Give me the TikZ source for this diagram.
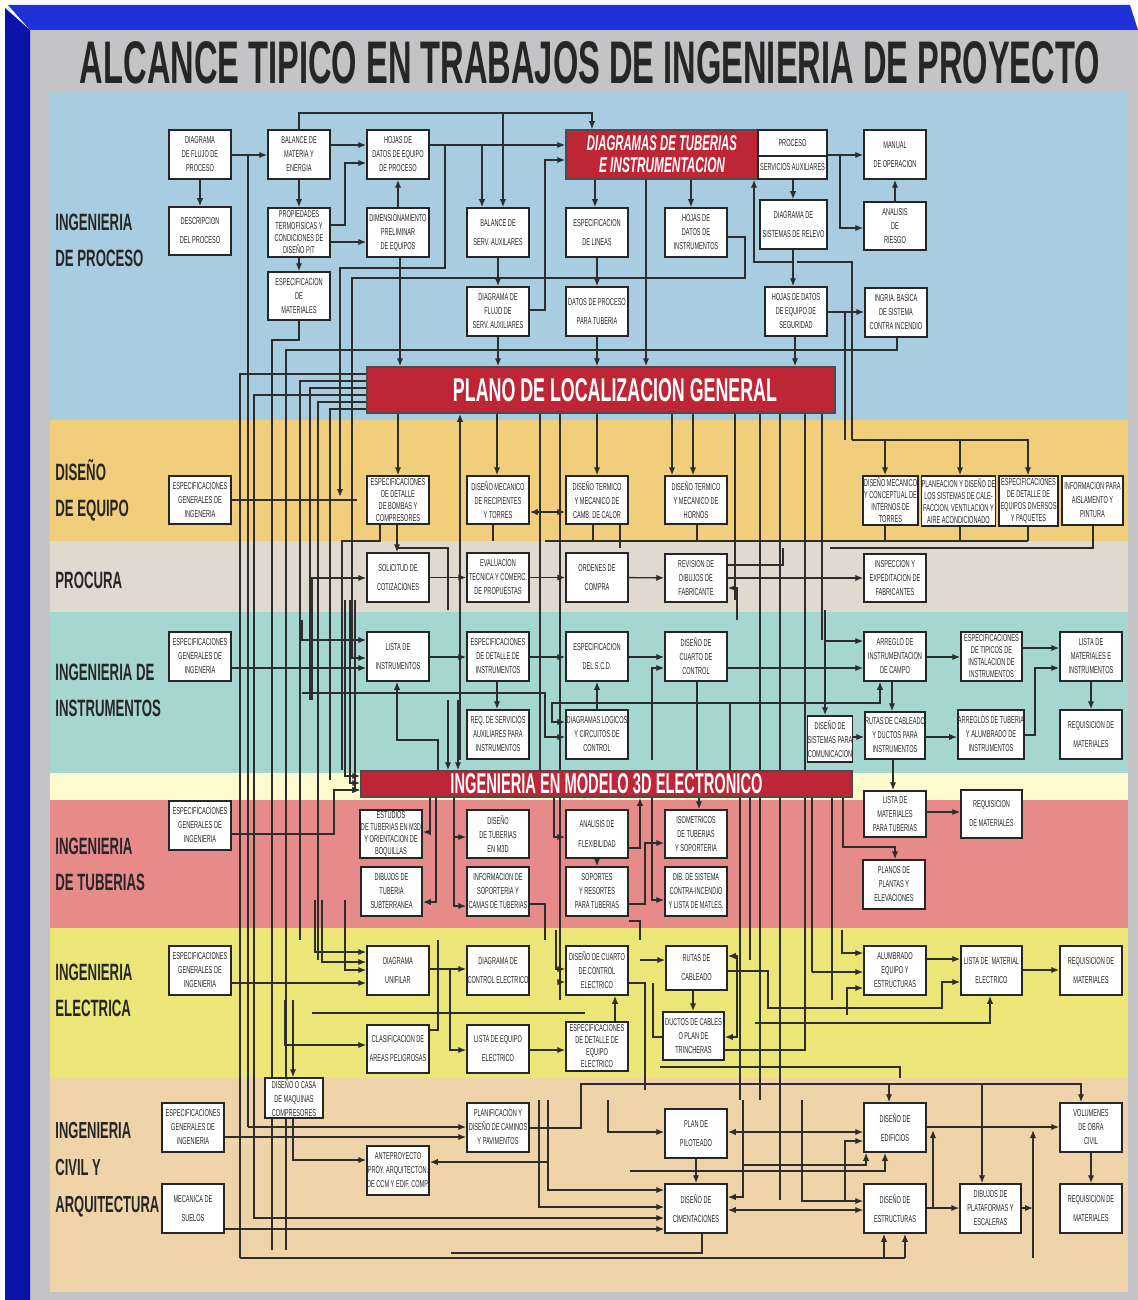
\documentclass[tikz,border=0pt]{standalone}
\usepackage{fontspec}
\setmainfont{Liberation Sans}[FakeStretch=0.56]
\usepackage{graphicx}
\usetikzlibrary{arrows.meta}
\definecolor{frameblue}{RGB}{10,20,170}
\definecolor{frametop}{RGB}{30,50,215}
\definecolor{panel}{RGB}{196,196,198}
\definecolor{bproc}{RGB}{168,205,224}
\definecolor{bequip}{RGB}{240,206,124}
\definecolor{bprocura}{RGB}{224,217,207}
\definecolor{binst}{RGB}{166,214,208}
\definecolor{bpale}{RGB}{253,250,206}
\definecolor{btub}{RGB}{230,138,138}
\definecolor{belec}{RGB}{236,230,121}
\definecolor{bcivil}{RGB}{240,212,169}
\definecolor{boxred}{RGB}{190,38,54}
\definecolor{wire}{RGB}{45,45,45}
\definecolor{ink}{RGB}{38,38,38}
\pgfdeclarelayer{bands}
\pgfdeclarelayer{wires}
\pgfsetlayers{bands,wires,main}
% box from corner (x1,y1) to (x2,y2)
\newcommand\ibox[7][]{\node[box,#1,minimum width={(#5-#3)*0.5pt},minimum height={(#6-#4)*0.5pt}] (#2) at ({(#3+#5)/2},{(#4+#6)/2}) {#7};}
\newcommand\rbox[7][]{\node[redbox,#1,minimum width={(#5-#3)*0.5pt},minimum height={(#6-#4)*0.5pt}] (#2) at ({(#3+#5)/2},{(#4+#6)/2}) {#7};}
\begin{document}
\begin{tikzpicture}[x=0.5pt,y=-0.5pt,
  box/.style={draw=black!85,line width=0.75pt,fill=white,inner sep=0pt,align=center,text=ink,
    font=\fontsize{5}{7}\selectfont},
  two/.style={font=\fontsize{5}{9.5}\selectfont},
  four/.style={font=\fontsize{5}{6}\selectfont},
  redbox/.style={draw=black!70,line width=0.75pt,fill=boxred,inner sep=0pt,text=white,align=center},
  sect/.style={anchor=west,font=\bfseries\fontsize{11.8}{18}\selectfont,text=ink,align=left,inner sep=0pt},
  ln/.style={draw=wire,line width=0.7pt},
  ar/.style={ln,-{Latex[length=4pt,width=3.2pt]}},
  ar2/.style={ln,{Latex[length=4pt,width=3.2pt]}-{Latex[length=4pt,width=3.2pt]}}]
\useasboundingbox (0,0) rectangle (1138,1300);

\begin{pgfonlayer}{bands}
  % frame and panel
  \fill[white] (0,0) rectangle (1138,1300);
  \fill[panel] (30,30) rectangle (1138,1300);
  \fill[frametop] (8,5) -- (1130,5) -- (1138,30) -- (30,30) -- cycle;
  \fill[frameblue] (5,8) -- (30,30) -- (30,1300) -- (5,1300) -- cycle;
  % bands
  \fill[bproc]    (50,92)   rectangle (1128,420);
  \fill[bequip]   (50,420)  rectangle (1128,541);
  \fill[bprocura] (50,541)  rectangle (1128,612);
  \fill[binst]    (50,612)  rectangle (1128,773);
  \fill[bpale]    (50,773)  rectangle (1128,800);
  \fill[btub]     (50,800)  rectangle (1128,928);
  \fill[belec]    (50,928)  rectangle (1128,1078);
  \fill[bcivil]   (50,1078) rectangle (1128,1292);
\end{pgfonlayer}

% title
\node[text=ink,inner sep=0pt] (title) at (590,63) {\resizebox{510pt}{21pt}{\bfseries ALCANCE TIPICO EN TRABAJOS DE INGENIERIA DE PROYECTO}};

% section labels
\node[sect] (sproc) at (55,240) {INGENIERIA\\DE PROCESO};
\node[sect] (sequip) at (55,490) {DISEÑO\\DE EQUIPO};
\node[sect] (sprocura) at (55,580) {PROCURA};
\node[sect] (sinst) at (55,690) {INGENIERIA DE\\INSTRUMENTOS};
\node[sect] (stub) at (55,864) {INGENIERIA\\DE TUBERIAS};
\node[sect] (selec) at (55,990) {INGENIERIA\\ELECTRICA};
\node[sect,font=\bfseries\fontsize{11.6}{18.5}\selectfont] (scivil) at (55,1170) {INGENIERIA\\CIVIL Y\\ARQUITECTURA};

% ---- process engineering
\ibox{dfp}{169}{130}{231}{179}{DIAGRAMA\\DE FLUJO DE\\PROCESO}
\ibox[two]{desc}{169}{207}{231}{255}{DESCRIPCION\\DEL PROCESO}
\ibox{bme}{268}{130}{330}{179}{BALANCE DE\\MATERIA Y\\ENERGIA}
\ibox[four]{prop}{268}{208}{330}{257}{PROPIEDADES\\TERMOFISICAS Y\\CONDICIONES DE\\DISEÑO  P/T}
\ibox{espm}{268}{272}{330}{320}{ESPECIFICACION\\DE\\MATERIALES}
\ibox{hdep}{367}{130}{429}{179}{HOJAS DE\\DATOS DE EQUIPO\\DE PROCESO}
\ibox{dim}{367}{208}{429}{257}{DIMENSIONAMIENTO\\PRELIMINAR\\DE EQUIPOS}
\rbox[font=\fontsize{5}{11}\selectfont]{dti}{566}{130}{758}{179}{\resizebox{75pt}{7.5pt}{\bfseries\itshape DIAGRAMAS DE TUBERIAS}\\\resizebox{63pt}{7.5pt}{\bfseries\itshape E INSTRUMENTACION}}
\ibox{proc}{758}{130}{827}{156}{PROCESO}
\ibox{serv}{758}{156}{827}{179}{SERVICIOS AUXILIARES}
\ibox[two]{bsa}{467}{208}{529}{257}{BALANCE DE\\SERV. AUXILARES}
\ibox[two]{espl}{566}{208}{628}{257}{ESPECIFICACION\\DE LINEAS}
\ibox{hdi}{665}{208}{727}{257}{HOJAS DE\\DATOS DE\\INSTRUMENTOS}
\ibox[two]{dsr}{760}{200}{827}{249}{DIAGRAMA DE\\SISTEMAS DE RELEVO}
\ibox[two]{man}{864}{130}{926}{179}{MANUAL\\DE OPERACION}
\ibox{ries}{864}{202}{926}{250}{ANALISIS\\DE\\RIESGO}
\ibox{dfsa}{467}{287}{529}{336}{DIAGRAMA DE\\FLUJO DE\\SERV. AUXILIARES}
\ibox[two]{dpt}{566}{287}{628}{336}{DATOS DE PROCESO\\PARA TUBERIA}
\ibox{hdes}{765}{287}{827}{336}{HOJAS DE DATOS\\DE EQUIPO DE\\SEGURIDAD}
\ibox{ingb}{865}{288}{927}{337}{INGRIA. BASICA\\DE SISTEMA\\CONTRA INCENDIO}
\rbox{plg}{367}{367}{835}{413}{\hspace*{14pt}\resizebox{162pt}{11.5pt}{\bfseries PLANO DE LOCALIZACION GENERAL}}

% ---- equipment design
\ibox{egi1}{169}{476}{231}{524}{ESPECIFICACIONES\\GENERALES DE\\INGENERIA}
\ibox[four]{ebc}{367}{476}{429}{524}{ESPECIFICACIONES\\DE DETALLE\\DE BOMBAS Y\\COMPRESORES}
\ibox{dmr}{467}{476}{529}{524}{DISEÑO MECANICO\\DE RECIPIENTES\\Y TORRES}
\ibox{dtc}{566}{476}{628}{524}{DISEÑO TERMICO\\Y MECANICO DE\\CAMB. DE CALOR}
\ibox{dth}{665}{476}{727}{524}{DISEÑO TERMICO\\Y MECANICO DE\\HORNOS}
\ibox[four]{dmi}{863}{476}{918}{525}{DISEÑO MECANICO\\Y CONCEPTUAL DE\\INTERNOS DE\\TORRES}
\ibox[four]{phv}{922}{476}{995}{526}{PLANEACION Y DISEÑO DE\\LOS SISTEMAS DE CALE-\\FACCION, VENTILACION Y\\AIRE ACONDICIONADO}
\ibox[four]{edd}{999}{476}{1058}{526}{ESPECIFICACIONES\\DE DETALLE DE\\EQUIPOS DIVERSOS\\Y PAQUETES}
\ibox{iap}{1062}{476}{1123}{525}{INFORMACION PARA\\AISLAMENTO Y\\PINTURA}

% ---- procurement
\ibox[two]{sol}{367}{553}{429}{602}{SOLICITUD DE\\COTIZACIONES}
\ibox{eval}{467}{553}{529}{602}{EVALUACION\\TECNICA Y COMERC.\\DE PROPUESTAS}
\ibox[two]{oc}{566}{553}{628}{602}{ORDENES DE\\COMPRA}
\ibox{rdf}{665}{554}{727}{602}{REVISION DE\\DIBUJOS DE\\FABRICANTE}
\ibox{iex}{864}{554}{926}{602}{INSPECCION Y\\EXPEDITACION DE\\FABRICANTES}

% ---- instrumentation
\ibox{egi2}{169}{632}{231}{681}{ESPECIFICACIONES\\GENERALES DE\\INGENERIA}
\ibox[two]{li}{367}{632}{429}{681}{LISTA DE\\INSTRUMENTOS}
\ibox{edi}{467}{632}{529}{681}{ESPECIFICACIONES\\DE DETALLE DE\\INSTRUMENTOS}
\ibox[two]{scd}{566}{632}{628}{681}{ESPECIFICACION\\DEL S.C.D.}
\ibox{dcc}{665}{632}{727}{681}{DISEÑO DE\\CUARTO DE\\CONTROL}
\ibox{aic}{864}{632}{926}{681}{ARREGLO DE\\INSTRUMENTACION\\DE CAMPO}
\ibox[four]{eti}{961}{632}{1022}{681}{ESPECIFICACIONES\\DE TIPICOS DE\\INSTALACION DE\\INSTRUMENTOS}
\ibox{lmi}{1060}{632}{1122}{681}{LISTA DE\\MATERIALES E\\INSTRUMENTOS}
\ibox{rsa}{467}{710}{529}{759}{REQ. DE SERVICIOS\\AUXILIARES PARA\\INSTRUMENTOS}
\ibox{dlc}{566}{710}{628}{759}{DIAGRAMAS LOGICOS\\Y CIRCUITOS DE\\CONTROL}
\ibox{dsc}{808}{716}{852}{762}{DISEÑO DE\\SISTEMAS PARA\\COMUNICACION}
\ibox{rci}{865}{712}{925}{759}{RUTAS DE CABLEADO\\Y DUCTOS PARA\\INSTRUMENTOS}
\ibox{ati}{958}{710}{1024}{759}{ARREGLOS DE TUBERIA\\Y ALUMBRADO DE\\INSTRUMENTOS}
\ibox[two]{rm1}{1060}{710}{1122}{759}{REQUISICION DE\\MATERIALES}

\rbox{m3d}{361}{771}{852}{797}{\resizebox{156pt}{10pt}{\bfseries INGENIERIA EN MODELO 3D ELECTRONICO}}

% ---- piping
\ibox{egi3}{169}{801}{231}{850}{ESPECIFICACIONES\\GENERALES DE\\INGENIERIA}
\ibox[four]{etm}{360}{810}{422}{858}{ESTUDIOS\\DE TUBERIAS EN M3D\\Y ORIENTACION DE\\BOQUILLAS}
\ibox{dtm}{467}{810}{529}{858}{DISEÑO\\DE TUBERIAS\\EN M3D}
\ibox[two]{afl}{566}{810}{628}{858}{ANALISIS DE\\FLEXIBILIDAD}
\ibox{ist}{665}{810}{727}{858}{ISOMETRICOS\\DE TUBERIAS\\Y SOPORTERIA}
\ibox{lmt}{864}{791}{926}{837}{LISTA DE\\MATERIALES\\PARA TUBERIAS}
\ibox[two]{rm2}{961}{790}{1022}{838}{REQUISICION\\DE MATERIALES}
\ibox{dts}{361}{867}{422}{916}{DIBUJOS DE\\TUBERIA\\SUBTERRANEA}
\ibox{isc}{467}{867}{529}{916}{INFORMACION DE\\SOPORTERIA Y\\CAMAS DE TUBERIAS}
\ibox{syr}{566}{867}{628}{916}{SOPORTES\\Y RESORTES\\PARA TUBERIAS}
\ibox{dsci}{665}{867}{727}{916}{DIB. DE SISTEMA\\CONTRA-INCENDIO\\Y LISTA DE MATLES.}
\ibox{ppe}{863}{860}{925}{909}{PLANOS DE\\PLANTAS Y\\ELEVACIONES}

% ---- electrical
\ibox{egi4}{169}{946}{231}{995}{ESPECIFICACIONES\\GENERALES DE\\INGENIERIA}
\ibox[two]{du}{367}{946}{429}{995}{DIAGRAMA\\UNIFILAR}
\ibox[two]{dce}{467}{946}{529}{995}{DIAGRAMA DE\\CONTROL ELECTRICO}
\ibox{dcce}{566}{946}{628}{995}{DISEÑO DE CUARTO\\DE CONTROL\\ELECTRICO}
\ibox[two]{rc}{666}{946}{727}{990}{RUTAS DE\\CABLEADO}
\ibox{aee}{864}{946}{926}{995}{ALUMBRADO\\EQUIPO Y\\ESTRUCTURAS}
\ibox[two]{lme}{961}{946}{1022}{995}{LISTA DE\ \ MATERIAL\\ELECTRICO}
\ibox[two]{rm3}{1060}{946}{1122}{995}{REQUISICION DE\\MATERIALES}
\ibox[two]{cap}{367}{1025}{429}{1073}{CLASIFICACION DE\\AREAS PELIGROSAS}
\ibox[two]{lee}{467}{1025}{529}{1073}{LISTA DE EQUIPO\\ELECTRICO}
\ibox[four]{edee}{566}{1022}{628}{1071}{ESPECIFICACIONES\\DE DETALLE DE\\EQUIPO\\ELECTRICO}
\ibox{dcp}{663}{1012}{724}{1060}{DUCTOS DE CABLES\\O PLAN DE\\TRINCHERAS}

% ---- civil and architecture
\ibox{dcm}{265}{1078}{323}{1118}{DISEÑO O CASA\\DE MAQUINAS\\COMPRESORES}
\ibox{egi5}{162}{1103}{224}{1152}{ESPECIFICACIONES\\GENERALES DE\\INGENIERIA}
\ibox{pcp}{467}{1103}{529}{1152}{PLANIFICACION Y\\DISEÑO DE CAMINOS\\Y PAVIMENTOS}
\ibox[two]{pp}{665}{1109}{727}{1158}{PLAN DE\\PILOTEADO}
\ibox[two]{ded}{864}{1103}{926}{1152}{DISEÑO DE\\EDIFICIOS}
\ibox{voc}{1060}{1103}{1122}{1152}{VOLUMENES\\DE OBRA\\CIVIL}
\ibox{apa}{367}{1146}{429}{1195}{ANTEPROYECTO\\PROY. ARQUITECTON.\\DE CCM Y EDIF. COMP.}
\ibox[two]{ms}{162}{1184}{224}{1233}{MECANICA DE\\SUELOS}
\ibox[two]{dci}{665}{1184}{727}{1233}{DISEÑO DE\\CIMENTACIONES}
\ibox[two]{des}{864}{1184}{926}{1233}{DISEÑO DE\\ESTRUCTURAS}
\ibox{dpe}{960}{1184}{1021}{1233}{DIBUJOS DE\\PLATAFORMAS Y\\ESCALERAS}
\ibox[two]{rm4}{1060}{1184}{1122}{1233}{REQUISICION DE\\MATERIALES}

\begin{pgfonlayer}{wires}
% process engineering
\draw[ar] (dfp) -- (desc);
\draw[ar] (dfp.east|-0,155) -- (bme.west|-0,155);
\draw[ar] (bme) -- (prop);
\draw[ar] (bme.east|-0,145) -- (hdep.west|-0,145);
\draw[ar] (prop.east|-0,225) -| (345,163) -- (hdep.west|-0,163);
\draw[ar] (prop.east|-0,242) -- (dim.west|-0,242);
\draw[ar] (prop) -- (espm);
\draw[ar] (dim) -- (hdep);
\draw[ar] (hdep.east|-0,145) -- (dti.west|-0,145);
\draw[ar] (482,145) -- (bsa.north-|482,0);
\draw[ar] (bme.north) |- (592,113) -- (dti.north-|592,0);
\draw[ar] (503,113) -- (bsa.north-|503,0);
\draw[ar] (dfsa.east|-0,310) -| (545,160) -- (dti.west|-0,160);
\draw[ar] (dti.south-|595,0) -- (espl.north-|595,0);
\draw[ar] (dti.south-|691,0) -- (hdi.north-|691,0);
\draw[ar] (bsa) -- (dfsa);
\draw[ar] (espl) -- (dpt);
\draw[ar] (dti.south-|646,0) -- (plg.north-|646,0);
\draw[ar] (hdi.east|-0,237) -| (745,278) -| (352,658) -- (li.west|-0,658);
\draw[ar] (hdep.east|-0,145) -| (445,268) -| (340,497);
\draw[ar] (serv.south-|793,0) -- (dsr.north-|793,0);
\draw[ar] (proc.east|-0,155) -- (man.west|-0,155);
\draw[ar] (840,155) |- (ries.west|-0,228);
\draw[ar] (ries) -- (man);
\draw[ar] (dsr.south-|793,0) -- (hdes.north-|793,0);
\draw[ar] (793,262) -| (dti.south-|754,0);
\draw[ln] (797,262) -| (852,440);
\draw[ar] (hdes.east|-0,312) -- (ingb.west|-0,312);
\draw[ln] (845,312) -- (845,440);
\draw[ar] (dim.south-|400,0) -- (plg.north-|400,0);
\draw[ar] (dfsa.south-|498,0) -- (plg.north-|498,0);
\draw[ar] (dpt.south-|597,0) -- (plg.north-|597,0);
\draw[ar] (hdes.south-|795,0) -- (plg.north-|795,0);
\draw[ln] (espm.south) |- (272,340) -- (272,1250);
\draw[ln] (ingb.south-|897,0) |- (286,350) -- (286,1250);
\draw[ln] (dfp.east|-0,155) -| (248,1127);
\draw[ar] (248,1127) -- (pcp.west|-0,1127);
\draw[ln] (plg.west|-0,374) -| (240,1258);
\draw[ar] (plg.west|-0,395) -| (254,1218) -- (dci.west|-0,1218);
\draw[ln] (plg.west|-0,381) -| (300,940);
\draw[ln] (plg.west|-0,388) -| (310,700);
\draw[ln] (plg.west|-0,402) -| (318,960);
\draw[ln] (plg.west|-0,409) -| (330,780);

% below the general plot plan
\draw[ar] (plg.south-|398,0) -- (ebc.north-|398,0);
\draw[ar] (plg.south-|497,0) -- (dmr.north-|497,0);
\draw[ar] (plg.south-|597,0) -- (dtc.north-|597,0);
\draw[ar] (plg.south-|672,0) -- (dth.north-|672,0);
\draw[ar] (plg.south-|693,0) -- (dth.north-|693,0);
\draw[ln] (plg.south-|560,0) -- (560,1000);
\draw[ln] (plg.south-|735,0) -- (735,600);
\draw[ln] (plg.south-|760,0) -- (760,1100);
\draw[ln] (plg.south-|780,0) -- (780,1200);
\draw[ln] (plg.south-|805,0) -- (805,1010);
\draw[ln] (plg.south-|822,0) -- (822,640);
\draw[ln] (852,440) -| (1028,460);
\draw[ar] (885,440) -- (dmi.north-|885,0);
\draw[ar] (960,440) -- (phv.north-|960,0);
\draw[ar] (1028,440) -- (edd.north-|1028,0);
\draw[ar] (460,760) -- (plg.south-|460,0);
\draw[ln] (plg.south-|540,0) -- (540,770);

% equipment design
\draw[ln] (egi1.east|-0,500) -- (357,500);
\draw[ar2] (dmr.east|-0,512) -- (dtc.west|-0,512);
\draw[ln] (dmr.south-|493,0) -- (493,541);
\draw[ln] (dtc.south-|593,0) -- (593,541);
\draw[ln] (dtc.south-|620,0) -- (620,548);
\draw[ln] (dth.south-|697,0) -- (697,541);
\draw[ln] (dmi.south-|885,0) -- (885,541);
\draw[ln] (phv.south-|960,0) -- (960,541);
\draw[ln] (edd.south-|1028,0) -- (1028,541);
\draw[ln] (iap.south-|1093,0) |- (830,548);
\draw[ln] (545,541) -- (1028,541);
\draw[ln] (ebc.south-|380,0) |- (342,541) -- (342,770);
\draw[ar] (ebc.south-|397,0) -- (sol.north-|397,0);
\draw[ln] (397,548) -- (448,548) -- (448,610);

% procurement
\draw[ar] (sol) -- (eval);
\draw[ar] (eval) -- (oc);
\draw[ar] (oc) -- (rdf);
\draw[ar] (rdf) -- (iex);
\draw[ar] (312,700) |- (sol.west|-0,578);
\draw[ar] (737,620) |- (rdf.east|-0,588);
\draw[ln] (rdf.east|-0,565) -| (783,548);

% instrumentation
\draw[ar] (egi2.east|-0,668) -- (li.west|-0,668);
\draw[ar] (302,620) |- (li.west|-0,640);
\draw[ar] (li.east|-0,657) -- (edi.west|-0,657);
\draw[ar] (edi.east|-0,657) -- (scd.west|-0,657);
\draw[ar] (scd.east|-0,657) -- (dcc.west|-0,657);
\draw[ar] (dcc.east|-0,668) -- (aic.west|-0,668);
\draw[ar] (652,760) |- (dcc.west|-0,668);
\draw[ar] (825,610) |- (aic.west|-0,641);
\draw[ar] (825,641) -- (dsc.north-|825,0);
\draw[ar] (aic.east|-0,657) -- (eti.west|-0,657);
\draw[ar] (eti.east|-0,648) -- (lmi.west|-0,648);
\draw[ar] (ati.east|-0,735) -| (1035,668) -- (lmi.west|-0,668);
\draw[ar] (lmi) -- (rm1);
\draw[ar] (aic.south-|892,0) -- (rci.north-|892,0);
\draw[ar] (dsc.east|-0,737) -- (rci.west|-0,737);
\draw[ar] (rci.east|-0,737) -- (ati.west|-0,737);
\draw[ar] (640,703) -| (aic.south-|880,0);
\draw[ar] (edi.south-|497,0) -- (rsa.north-|497,0);
\draw[ar] (dlc.north-|597,0) -- (scd.south-|597,0);
\draw[ar] (302,693) -| (545,737) -- (dlc.west|-0,737);
\draw[ar] (640,703) -| (552,722) -- (dlc.west|-0,722);
\draw[ar] (438,771) |- (397,740) -- (li.south-|397,0);
\draw[ar] (448,700) -- (m3d.north-|448,0);
\draw[ar] (458,700) -- (m3d.north-|458,0);
\draw[ln] (dcc.south-|697,0) -- (697,771);
\draw[ln] (730,703) -- (730,771);

% 3D model
\draw[ar] (345,600) |- (m3d.west|-0,776);
\draw[ar] (350,600) |- (m3d.west|-0,783);
\draw[ar] (355,600) |- (m3d.west|-0,790);

% piping
\draw[ar] (m3d.south-|430,0) |- (etm.east|-0,832);
\draw[ar] (m3d.south-|436,0) |- (dts.east|-0,902);
\draw[ar] (m3d.south-|454,0) |- (dtm.west|-0,837);
\draw[ar] (454,837) |- (isc.west|-0,906);
\draw[ar] (m3d.south-|554,0) |- (afl.west|-0,837);
\draw[ar] (afl.east|-0,848) -| (m3d.south-|640,0);
\draw[ar] (syr.east|-0,904) -| (645,843) -- (ist.west|-0,843);
\draw[ar] (m3d.south-|652,0) |- (dsci.west|-0,900);
\draw[ar] (afl) -- (syr);
\draw[ar] (m3d.south-|699,0) -- (ist.north-|699,0);
\draw[ln] (isc.east|-0,904) -| (545,940);
\draw[ln] (syr.east|-0,921) -| (640,940);
\draw[ar] (egi3.east|-0,834) -| (334,790) -- (m3d.west|-0,790);
\draw[ar] (lmt.east|-0,812) -- (rm2.west|-0,812);
\draw[ar] (m3d.south-|843,0) |- (895,847) -- (ppe.north-|895,0);
\draw[ar] (rci.south-|893,0) -- (lmt.north-|893,0);
\draw[ln] (m3d.south-|740,0) -- (740,1100);
\draw[ln] (m3d.south-|750,0) -- (750,960);
\draw[ln] (m3d.south-|812,0) -- (812,972);
\draw[ln] (m3d.south-|832,0) -- (832,1000);

% electrical
\draw[ar] (egi4.east|-0,983) -- (du.west|-0,983);
\draw[ar] (315,900) |- (du.west|-0,952);
\draw[ar] (322,900) |- (du.west|-0,962);
\draw[ar] (345,900) |- (du.west|-0,970);
\draw[ar] (du.east|-0,969) -- (dce.west|-0,969);
\draw[ar] (450,969) |- (lee.west|-0,1050);
\draw[ar] (lee.east|-0,1050) -- (edee.west|-0,1050);
\draw[ar] (edee.north-|615,0) -- (dcce.south-|615,0);
\draw[ar] (556,930) |- (dcce.west|-0,969);
\draw[ar] (560,930) |- (dcce.west|-0,982);
\draw[ar] (285,1000) |- (cap.west|-0,1045);
\draw[ln] (cap.east|-0,1030) -| (438,940);
\draw[ln] (312,1013) -- (585,1013);
\draw[ar] (293,1000) -- (dcm.north-|293,0);
\draw[ar] (640,960) -- (rc.west|-0,960);
\draw[ar] (737,1000) |- (rc.east|-0,956);
\draw[ar] (737,1000) |- (dcp.east|-0,1037);
\draw[ar] (rc.south-|693,0) -- (dcp.north-|693,0);
\draw[ln] (653,983) |- (dcp.west|-0,1037);
\draw[ar] (rc.east|-0,971) -| (768,1008) -| (942,982) -- (lme.west|-0,982);
\draw[ar] (aee.east|-0,959) -- (lme.west|-0,959);
\draw[ar] (842,930) |- (aee.west|-0,953);
\draw[ar] (812,972) -- (aee.west|-0,972);
\draw[ar] (847,1015) |- (aee.west|-0,988);
\draw[ar] (lme.east|-0,970) -- (rm3.west|-0,970);
\draw[ar] (755,1023) -| (lme.south-|990,0);
\draw[ln] (dcp.east|-0,1050) -| (805,1008);
\draw[ln] (dcce.east|-0,983) -| (645,1090);
\draw[ln] (660,1067) -- (900,1067) -- (900,1078);

% civil and architecture
\draw[ar] (egi5.east|-0,1137) -- (pcp.west|-0,1137);
\draw[ar] (pcp.east|-0,1128) -| (581,1084) -| (voc.north-|1081,0);
\draw[ar] (dcm.south-|293,0) |- (apa.west|-0,1160);
\draw[ar] (548,1100) |- (apa.east|-0,1162);
\draw[ar2] (pp.east|-0,1132) -- (ded.west|-0,1132);
\draw[ar] (608,1100) |- (pp.west|-0,1132);
\draw[ar] (845,1200) |- (ded.west|-0,1141);
\draw[ar] (742,1165) -| (ded.south-|866,0);
\draw[ar] (630,1171) -| (ded.south-|885,0);
\draw[ar] (ded.east|-0,1127) -- (voc.west|-0,1127);
\draw[ar] (933,1208) -- (933,1130);
\draw[ar] (voc) -- (rm4);
\draw[ar] (pp) -- (dci);
\draw[ar] (548,1162) |- (dci.west|-0,1190);
\draw[ar] (539,1100) |- (dci.west|-0,1207);
\draw[ar] (ms.east|-0,1229) -- (dci.west|-0,1229);
\draw[ar2] (dci.east|-0,1210) -- (des.west|-0,1210);
\draw[ar] (743,1100) |- (dci.east|-0,1197);
\draw[ar] (802,1100) |- (des.west|-0,1201);
\draw[ar] (des.east|-0,1208) -- (dpe.west|-0,1208);
\draw[ar] (dpe.east|-0,1208) -- (1033,1208);
\draw[ar] (1033,1258) -- (1033,1130);
\draw[ar] (982,1084) -- (dpe.north-|982,0);
\draw[ar] (889,1084) -- (ded.north-|889,0);
\draw[ar] (884,1258) -- (des.south-|884,0);
\draw[ar] (905,1258) -- (des.south-|905,0);
\draw[ln] (dci.south-|702,0) |- (451,1253);
\draw[ln] (240,1258) -- (905,1258);
\end{pgfonlayer}
\end{tikzpicture}
\end{document}
